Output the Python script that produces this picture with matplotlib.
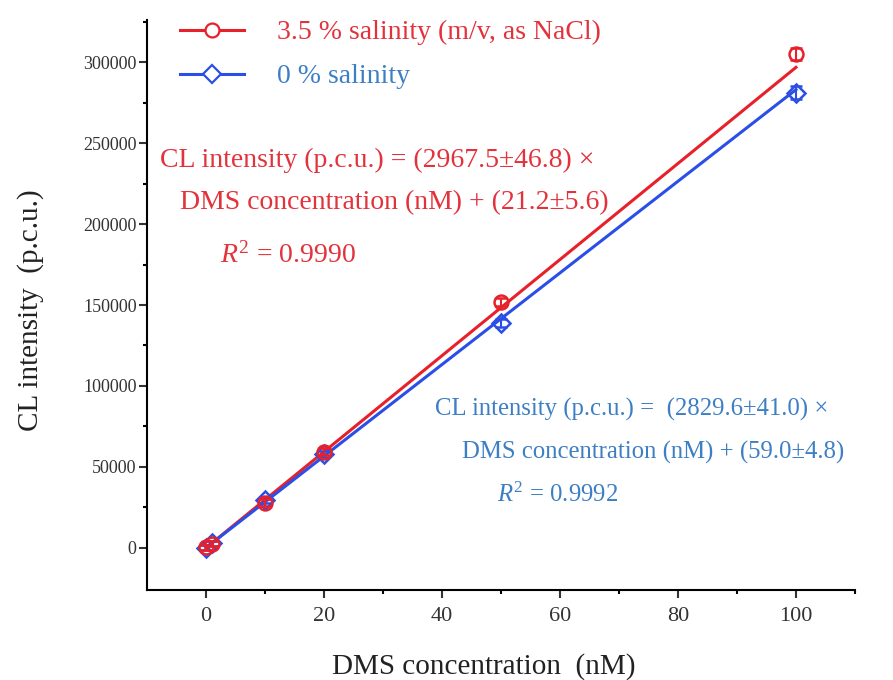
import matplotlib
matplotlib.use("Agg")
import matplotlib.pyplot as plt
import numpy as np
from matplotlib.lines import Line2D

plt.rcParams['font.family'] = ['Liberation Serif', 'DejaVu Serif']
plt.rcParams['mathtext.fontset'] = 'custom'
plt.rcParams['mathtext.rm'] = 'Liberation Serif'
plt.rcParams['mathtext.it'] = 'Liberation Serif:italic'

# Data
conc = [0, 1, 10, 20, 50, 100]
salt_y = [300, 2500, 28000, 59500, 152000, 305000]
salt_err = [1500, 1500, 2000, 2000, 2500, 4000]
fresh_y = [200, 2800, 29500, 58000, 139000, 281000]
fresh_err = [1500, 1500, 2000, 2000, 2500, 4000]

salt_slope, salt_icpt = 2967.5, 21.2
fresh_slope, fresh_icpt = 2829.6, 59.0
fit_x = [0, 100]

xticks = [0, 20, 40, 60, 80, 100]
yticks = [0, 50000, 100000, 150000, 200000, 250000, 300000]

RED = '#e8202a'
BLUE = '#2b4fe6'
RED_TXT = '#e2323c'
BLUE_TXT = '#3d7fc4'

W, H = 893, 680
fig = plt.figure(figsize=(W/100, H/100), dpi=100)
ax = fig.add_axes([147/W, 1-590/H, (855-147)/W, (590-20)/H])

fx = np.array(fit_x, dtype=float)
ax.plot(fx, salt_slope*fx + salt_icpt, color=RED, lw=2.2, zorder=2)
ax.plot(fx, fresh_slope*fx + fresh_icpt, color=BLUE, lw=2.2, zorder=2)

ax.errorbar(conc, fresh_y, yerr=fresh_err, fmt='D', ms=9, mfc='none', mec=BLUE,
            mew=1.8, ecolor=BLUE, elinewidth=1.5, capsize=4, color=BLUE, zorder=3)
ax.errorbar(conc, salt_y, yerr=salt_err, fmt='o', ms=10, mfc='none', mec=RED,
            mew=1.8, ecolor=RED, elinewidth=1.5, capsize=4, color=RED, zorder=4)

ax.set_xlim(-10, 110)
ax.set_ylim(-26000, 326000)
ax.set_xticks(xticks)
ax.set_yticks(yticks)
ax.set_xticks([10, 30, 50, 70, 90, 110], minor=True)
ax.set_yticks([25000, 75000, 125000, 175000, 225000, 275000, 325000], minor=True)
ax.tick_params(which='major', direction='out', length=6, width=1.5, colors='#333333')
ax.tick_params(axis='y', which='major', labelsize=13, pad=1.5)
ax.tick_params(axis='x', which='major', labelsize=16, pad=6)
ax.tick_params(which='minor', direction='out', length=3, width=1.5)
for s in ['top', 'right']:
    ax.spines[s].set_visible(False)
for s in ['left', 'bottom']:
    ax.spines[s].set_linewidth(1.5)

ax.set_xlabel('DMS concentration  (nM)', fontsize=21, color='#222222')
ax.set_ylabel('CL intensity  (p.c.u.)', fontsize=21, color='#222222')
ax.xaxis.set_label_coords((484-147)/708, (590-653)/570)
ax.yaxis.set_label_coords((44-147)/708, (590-310)/570)

# Legend
h1 = Line2D([], [], color=RED, marker='o', ms=10, mfc='white', mew=1.6, lw=2.2, ls='-')
h2 = Line2D([], [], color=BLUE, marker='D', ms=9, mfc='white', mew=1.6, lw=2.2, ls='-')
leg = ax.legend([h1, h2], ['3.5 % salinity (m/v, as NaCl)', '0 % salinity'],
                loc='upper left', bbox_to_anchor=(155/W, 1+5/H), bbox_transform=fig.transFigure,
                frameon=False, fontsize=20, handlelength=2.3, handletextpad=1.2, labelspacing=0.66)
leg.get_texts()[0].set_color(RED_TXT)
leg.get_texts()[1].set_color(BLUE_TXT)

fs = 20
fig.text(160/W, 1-160/H, 'CL intensity (p.c.u.) = (2967.5±46.8) ×', color=RED_TXT, fontsize=fs, va='center')
fig.text(180/W, 1-203/H, 'DMS concentration (nM) + (21.2±5.6)', color=RED_TXT, fontsize=fs, va='center')
fig.text(220/W, 1-255/H, r'$R^2$ = 0.9990', color=RED_TXT, fontsize=fs, va='center')

fs2 = 17.8
fig.text(435/W, 1-409/H, 'CL intensity (p.c.u.) =  (2829.6±41.0) ×', color=BLUE_TXT, fontsize=fs2, va='center')
fig.text(462/W, 1-452/H, 'DMS concentration (nM) + (59.0±4.8)', color=BLUE_TXT, fontsize=fs2, va='center')
fig.text(497/W, 1-495/H, r'$R^2$ = 0.9992', color=BLUE_TXT, fontsize=fs2, va='center')

fig.savefig('out.png', dpi=100)
